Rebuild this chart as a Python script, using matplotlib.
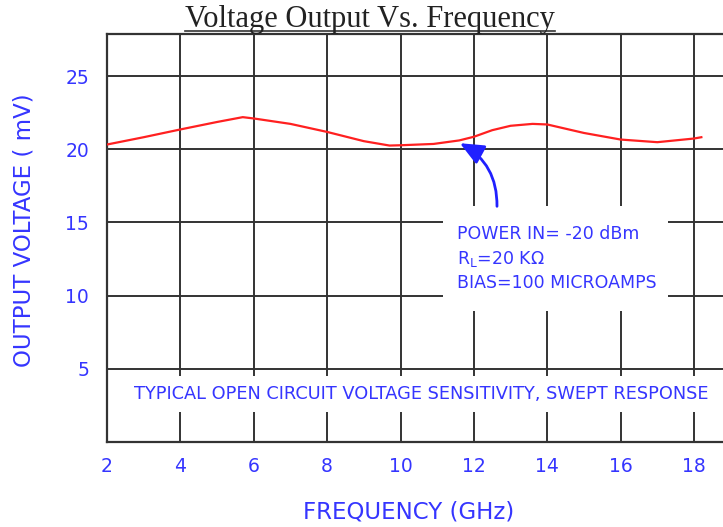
import matplotlib
matplotlib.use("Agg")
import matplotlib.pyplot as plt
from matplotlib.lines import Line2D
from matplotlib.patches import Rectangle

plt.rcParams["font.family"] = ["DejaVu Sans"]
plt.rcParams["mathtext.fontset"] = "dejavusans"

# ---- data ----
freq_ghz = [2, 3, 4, 5, 5.7, 6, 7, 8, 9, 9.7, 10, 10.9, 11.6, 12, 12.5, 13, 13.6, 14, 15, 16, 17, 18, 18.2]
volt_mv = [20.32, 20.82, 21.35, 21.86, 22.19, 22.1, 21.73, 21.18, 20.55, 20.25, 20.27, 20.36, 20.6, 20.85,
           21.3, 21.6, 21.73, 21.69, 21.11, 20.66, 20.48, 20.73, 20.82]
x_ticks = [2, 4, 6, 8, 10, 12, 14, 16, 18]
y_ticks = [5, 10, 15, 20, 25]
title = "Voltage Output Vs. Frequency"
xlabel = "FREQUENCY (GHz)"
ylabel = "OUTPUT VOLTAGE ( mV)"
note_lines = ["POWER IN= -20 dBm", r"R$_\mathregular{L}$=20 K$\mathregular{\Omega}$", "BIAS=100 MICROAMPS"]
footer = "TYPICAL OPEN CIRCUIT VOLTAGE SENSITIVITY, SWEPT RESPONSE"

W, H = 723, 527
BLUE = "#3535ff"
GRID = "#333333"

fig = plt.figure(figsize=(W / 100, H / 100), dpi=100)
ax = fig.add_axes([107 / W, (H - 442) / H, (W - 107) / W, (442 - 34) / H])
ax.set_xlim(2, 18.79)
ax.set_ylim(0, 27.87)

ax.set_xticks(x_ticks)
ax.set_yticks(y_ticks)
ax.tick_params(axis="both", length=0, labelcolor=BLUE, labelsize=13.5)
ax.tick_params(axis="x", pad=11)
ax.tick_params(axis="y", pad=13)
ax.grid(True, color=GRID, linewidth=1.4)
ax.set_axisbelow(True)
for side in ["left", "bottom", "top"]:
    ax.spines[side].set_color(GRID)
    ax.spines[side].set_linewidth(1.6)
ax.spines["right"].set_visible(False)

ax.plot(freq_ghz, volt_mv, color="#ff2020", linewidth=1.6, zorder=4)

# white box behind annotation
ax.add_patch(Rectangle((11.16, 8.93), 17.29 - 11.16, 16.1 - 8.93, facecolor="white",
                       edgecolor="none", zorder=2))
ys = [14.19, 12.49, 10.85]
for txt, yv in zip(note_lines, ys):
    ax.text(11.54, yv, txt, color=BLUE, fontsize=12.5, va="center", ha="left", zorder=5)

ax.annotate("", xy=(11.62, 20.41), xytext=(12.63, 16.1),
            arrowprops=dict(arrowstyle="-|>,head_length=0.8,head_width=0.35", color="#2020ff",
                            lw=2.0, mutation_scale=18, connectionstyle="arc3,rad=0.3",
                            shrinkA=0, shrinkB=0), zorder=5)

ax.text(10.56, 3.28, footer, color=BLUE, fontsize=12.8, ha="center", va="center", zorder=5,
        bbox=dict(boxstyle="square,pad=0.5", facecolor="white", edgecolor="none"))

fig.text(24 / W, 1 - 230 / H, ylabel, rotation=90, color=BLUE, fontsize=16.5,
         ha="center", va="center")
fig.text(409 / W, 1 - 512 / H, xlabel, color=BLUE, fontsize=16.5, ha="center", va="center")

fig.text(370 / W, 1 - 27 / H, title, family="Liberation Serif", fontsize=22, color="#222222",
         ha="center", va="baseline")
fig.add_artist(Line2D([185 / W, 555 / W], [1 - 31 / H] * 2, color="#333333", lw=1.2))

fig.savefig("out.png", dpi=100)
